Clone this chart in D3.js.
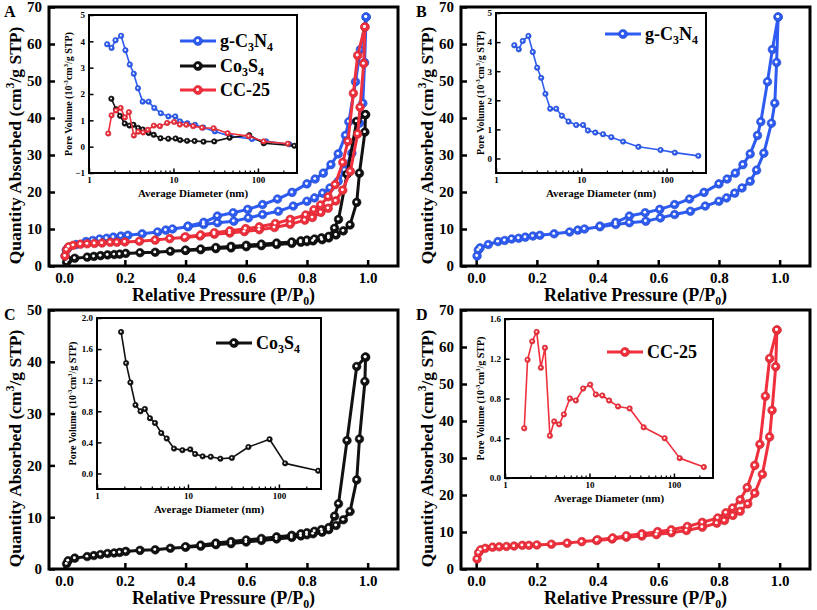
<!DOCTYPE html>
<html><head><meta charset="utf-8">
<script src="https://cdn.jsdelivr.net/npm/d3@7"></script>
<style>body{margin:0;background:#fff}svg{display:block}</style>
</head><body>
<svg id="chart" width="817" height="610"></svg>
<script>
// ---------- data ----------
const pressureTicks = [0, 0.2, 0.4, 0.6, 0.8, 1.0];
const quantityTicks70 = [0, 10, 20, 30, 40, 50, 60, 70];
const quantityTicks50 = [0, 10, 20, 30, 40, 50];
const diameterTicks = [1, 10, 100];
const poreTicksA = [-1, 0, 1, 2, 3, 4, 5];
const poreTicksB = [0, 1, 2, 3, 4, 5];
const poreTicksC = [0, 0.4, 0.8, 1.2, 1.6, 2.0];
const poreTicksD = [0, 0.4, 0.8, 1.2, 1.6];

// g-C3N4 isotherm
const gcnAdsP = [0.003,0.007,0.013,0.04,0.072,0.094,0.117,0.14,0.162,0.187,0.21,0.257,0.308,0.335,0.357,0.408,0.46,0.505,0.559,0.607,0.654,0.706,0.755,0.80,0.825,0.852,0.876,0.903,0.924,0.948,0.973,0.984,0.99,0.995];
const gcnAdsV = [2.7,4.3,4.9,5.8,6.6,6.9,7.3,7.5,7.8,8.1,8.3,8.7,9.2,9.7,10.0,10.6,11.2,11.7,12.1,13.0,13.9,14.8,16.2,17.5,18.4,19.7,21.1,22.9,25.9,30.5,38.6,44.0,55.0,67.3];
const gcnDesP = [0.995,0.976,0.96,0.938,0.927,0.903,0.879,0.854,0.827,0.80,0.751,0.703,0.654,0.605,0.557,0.505,0.46,0.408];
const gcnDesV = [67.3,58.5,49.8,39.0,35.3,30.3,27.4,25.1,23.5,22.2,19.9,18.1,16.6,15.3,14.4,13.5,11.8,10.8];

// Co3S4 isotherm
const coAdsP = [0.008,0.013,0.035,0.076,0.098,0.12,0.143,0.165,0.183,0.203,0.25,0.3,0.35,0.4,0.45,0.5,0.55,0.6,0.65,0.7,0.75,0.78,0.8,0.82,0.85,0.872,0.896,0.92,0.942,0.964,0.973,0.991,0.993];
const coAdsV = [1.0,1.6,2.1,2.4,2.6,2.8,3.0,3.1,3.2,3.4,3.6,3.7,4.0,4.2,4.4,4.7,4.9,5.2,5.5,5.8,6.1,6.4,6.6,6.8,7.1,7.6,8.4,9.5,11.1,17.2,25.1,36.2,40.9];
const coDesP = [0.993,0.964,0.932,0.904,0.891,0.872,0.848,0.825,0.8,0.78,0.75,0.7,0.65,0.6,0.55,0.5,0.45,0.4];
const coDesV = [40.9,39.1,24.8,12.6,10.2,8.0,7.6,7.3,7.0,6.8,6.5,6.2,5.9,5.6,5.3,5.0,4.6,4.3];

// CC-25 isotherm
const ccAdsP = [0.003,0.008,0.015,0.03,0.054,0.076,0.1,0.125,0.152,0.174,0.2,0.248,0.3,0.348,0.397,0.448,0.495,0.546,0.594,0.643,0.693,0.745,0.793,0.818,0.846,0.87,0.895,0.918,0.943,0.967,0.975,0.987,0.991];
const ccAdsV = [2.7,4.4,5.2,5.6,5.9,6.0,6.1,6.2,6.4,6.4,6.5,6.7,7.0,7.4,7.7,8.1,8.6,8.9,9.3,9.8,10.4,11.3,12.4,13.1,14.5,15.6,17.6,20.5,25.6,35.7,42.9,54.7,64.6];
const ccDesP = [0.991,0.967,0.953,0.935,0.918,0.893,0.87,0.845,0.823,0.796,0.745,0.696,0.643,0.598,0.546,0.495,0.45,0.4];
const ccDesV = [64.6,56.9,46.7,33.7,28.0,22.0,18.7,16.5,15.2,13.8,12.6,11.5,10.6,10.1,9.5,9.0,8.4,7.9];

// pore size distributions (diameter nm, pore volume 10^-3 cm3/g STP)
const gcnPoreD = [1.64,1.85,2.06,2.40,2.70,3.04,3.39,3.80,4.32,5.08,5.93,7.09,8.72,10.5,11.97,14.6,18.0,22.5,30.9,46.8,85,125,236];
const gcnPoreV = [3.89,3.75,4.04,4.21,3.66,3.12,2.77,2.22,1.71,1.71,1.47,1.27,1.15,1.15,0.96,0.89,0.83,0.73,0.58,0.40,0.29,0.20,0.09];
const coPoreD = [1.84,2.09,2.33,2.65,3.01,3.36,3.82,4.34,5.09,5.84,7.03,8.69,10.6,12.0,14.5,17.8,22.7,30.4,46.2,78.9,117,270];
const coPoreV = [1.82,1.42,1.17,0.88,0.80,0.83,0.71,0.65,0.52,0.45,0.32,0.30,0.31,0.25,0.22,0.215,0.19,0.20,0.34,0.44,0.13,0.035];
const ccPoreD = [1.69,1.85,2.10,2.37,2.66,2.97,3.40,3.83,4.38,4.98,5.86,6.90,8.42,10.2,11.9,14.2,17.1,21.8,29.9,43.8,77.6,117,226];
const ccPoreV = [0.50,1.19,1.375,1.47,1.11,1.31,0.425,0.57,0.54,0.64,0.80,0.78,0.90,0.94,0.84,0.83,0.78,0.72,0.70,0.51,0.40,0.20,0.11];

// ---------- styling ----------
const BLUE = "#2e5cf2", BLACK = "#111111", RED = "#f0303c";
const FONT = "'Liberation Serif','Times New Roman',serif";
const zip = (a, b) => a.map((v, i) => [v, b[i]]);

const gcn = {label: [["g-C",""],["3","sub"],["N",""],["4","sub"]], color: BLUE,
  iso: zip(gcnAdsP, gcnAdsV).concat(zip(gcnDesP, gcnDesV)), pore: zip(gcnPoreD, gcnPoreV)};
const co = {label: [["Co",""],["3","sub"],["S",""],["4","sub"]], color: BLACK,
  iso: zip(coAdsP, coAdsV).concat(zip(coDesP, coDesV)), pore: zip(coPoreD, coPoreV)};
const cc = {label: [["CC-25",""]], color: RED,
  iso: zip(ccAdsP, ccAdsV).concat(zip(ccDesP, ccDesV)), pore: zip(ccPoreD, ccPoreV)};

const svg = d3.select("#chart").attr("font-family", FONT).attr("font-weight", "bold");

function rich(sel, parts, size) {
  let shift = 0;
  parts.forEach(([s, m]) => {
    const target = m === "sup" ? -0.38 * size : m === "sub" ? 0.2 * size : 0;
    const t = sel.append("tspan").text(s).attr("dy", target - shift);
    if (m) t.attr("font-size", size * 0.66);
    shift = target;
  });
}

function markers(g, pts, x, y, color, r) {
  const m = g.append("g");
  m.selectAll("circle.m").data(pts).join("circle").attr("class", "m")
    .attr("cx", d => x(d[0])).attr("cy", d => y(d[1])).attr("r", r)
    .attr("fill", color).attr("stroke", d3.color(color).darker(0.6)).attr("stroke-width", 0.6);
  m.selectAll("circle.h").data(pts).join("circle").attr("class", "h")
    .attr("cx", d => x(d[0]) - r * 0.1).attr("cy", d => y(d[1]) - r * 0.1).attr("r", r * 0.34)
    .attr("fill", "#fff");
}

function legendItem(g, item, x0, yy, len, fs) {
  g.append("line").attr("x1", x0).attr("x2", x0 + len).attr("y1", yy).attr("y2", yy)
    .attr("stroke", item.color).attr("stroke-width", 3);
  markers(g, [[x0 + len / 2, yy]], d => d, d => d, item.color, 4.5);
  const t = g.append("text").attr("x", x0 + len + 4).attr("y", yy + fs * 0.33)
    .attr("font-size", fs).attr("fill", "#000");
  rich(t, item.label, fs);
}

function panel(cfg) {
  const g = svg.append("g");
  const x = d3.scaleLinear().domain([-0.05, 1.1]).range([cfg.left, cfg.right]);
  const y = d3.scaleLinear().domain(cfg.yDomain).range([cfg.bottom, cfg.top]);

  const xa = g.append("g").attr("transform", `translate(0,${cfg.bottom})`)
    .call(d3.axisBottom(x).tickValues(pressureTicks).tickFormat(d3.format(".1f"))
      .tickSizeInner(-6).tickSizeOuter(0).tickPadding(6));
  const ya = g.append("g").attr("transform", `translate(${cfg.left},0)`)
    .call(d3.axisLeft(y).tickValues(cfg.yTicks).tickFormat(d3.format("d"))
      .tickSizeInner(-6).tickSizeOuter(0).tickPadding(7));
  [xa, ya].forEach(a => {
    a.select(".domain").remove();
    a.selectAll("line").attr("stroke", "#000").attr("stroke-width", 2.5);
    a.selectAll("text").attr("font-size", 15).attr("font-family", FONT).attr("font-weight", "bold").attr("fill", "#000");
  });

  g.append("rect").attr("x", cfg.left).attr("y", cfg.top)
    .attr("width", cfg.right - cfg.left).attr("height", cfg.bottom - cfg.top)
    .attr("fill", "none").attr("stroke", "#000").attr("stroke-width", 3);

  // titles
  const xt = g.append("text").attr("x", (cfg.left + cfg.right) / 2).attr("y", cfg.bottom + 35)
    .attr("text-anchor", "middle").attr("font-size", 18);
  rich(xt, [["Relative Pressure (P/P",""],["0","sub"],[")",""]], 18);
  const yt = g.append("text").attr("transform", `translate(${cfg.left - 28},${(cfg.top + cfg.bottom) / 2 + 9}) rotate(-90)`)
    .attr("text-anchor", "middle").attr("font-size", 17.5);
  rich(yt, [["Quantity Absorbed (cm",""],["3","sup"],["/g STP)",""]], 17.5);
  g.append("text").attr("x", cfg.left - 45).attr("y", cfg.top + 10).attr("font-size", 16).text(cfg.letter);

  // inset first (drawn under the isotherm curves)
  inset(g, cfg.inset, cfg.series);

  const line = d3.line().x(d => x(d[0])).y(d => y(d[1]));
  cfg.series.forEach(s => {
    g.append("path").attr("d", line(s.iso)).attr("fill", "none")
      .attr("stroke", s.color).attr("stroke-width", 3).attr("stroke-linejoin", "round");
    markers(g, s.iso, x, y, s.color, 4.3);
  });

  cfg.legend.forEach((l, i) => legendItem(g, cfg.series[i], l[0], l[1], 36, 18));
}

function inset(g, c, series) {
  const gi = g.append("g");
  const x = d3.scaleLog().domain([1, 290]).range([c.left, c.right]);
  const y = d3.scaleLinear().domain(c.yDomain).range([c.bottom, c.top]);
  gi.append("rect").attr("x", c.left).attr("y", c.top).attr("width", c.right - c.left)
    .attr("height", c.bottom - c.top).attr("fill", "#fff");
  const minor = [];
  [1, 10, 100].forEach(dec => { for (let k = 2; k <= 9; k++) if (dec * k < 290) minor.push(dec * k); });
  gi.append("g").attr("transform", `translate(0,${c.bottom})`)
    .call(d3.axisBottom(x).tickValues(minor).tickFormat("").tickSizeInner(-2.5).tickSizeOuter(0))
    .call(a => a.select(".domain").remove())
    .selectAll("line").attr("stroke", "#000").attr("stroke-width", 1.2);
  const xa = gi.append("g").attr("transform", `translate(0,${c.bottom})`)
    .call(d3.axisBottom(x).tickValues(diameterTicks).tickFormat(d3.format("d"))
      .tickSizeInner(-4.5).tickSizeOuter(0).tickPadding(4));
  const ya = gi.append("g").attr("transform", `translate(${c.left},0)`)
    .call(d3.axisLeft(y).tickValues(c.yTicks).tickFormat(c.fmt)
      .tickSizeInner(-4.5).tickSizeOuter(0).tickPadding(4));
  [xa, ya].forEach(a => {
    a.select(".domain").remove();
    a.selectAll("line").attr("stroke", "#000").attr("stroke-width", 1.5);
    a.selectAll("text").attr("font-size", 9).attr("font-family", FONT).attr("font-weight", "bold").attr("fill", "#000");
  });
  gi.append("rect").attr("x", c.left).attr("y", c.top).attr("width", c.right - c.left)
    .attr("height", c.bottom - c.top).attr("fill", "none").attr("stroke", "#000").attr("stroke-width", 2);

  gi.append("text").attr("x", (c.left + c.right) / 2).attr("y", c.bottom + 24)
    .attr("text-anchor", "middle").attr("font-size", 11).text("Average Diameter (nm)");
  const yt = gi.append("text").attr("transform", `translate(${c.left + c.yTitleDx},${(c.top + c.bottom) / 2}) rotate(-90)`)
    .attr("text-anchor", "middle").attr("font-size", 10);
  rich(yt, [["Pore Volume (10",""],["-3","sup"],["cm",""],["3","sup"],["/g STP)",""]], 10);

  const line = d3.line().x(d => x(d[0])).y(d => y(d[1]));
  series.forEach(s => {
    gi.append("path").attr("d", line(s.pore)).attr("fill", "none")
      .attr("stroke", s.color).attr("stroke-width", 1.6).attr("stroke-linejoin", "round");
    markers(gi, s.pore, x, y, s.color, 2.7);
  });
}

const f1 = d3.format(".1f"), fd = d3.format("d");

panel({letter: "A", left: 49, right: 398, top: 7, bottom: 266, yDomain: [0, 70], yTicks: quantityTicks70,
  series: [gcn, co, cc], legend: [[180, 41], [180, 66], [180, 90]],
  inset: {left: 89, right: 297, top: 15, bottom: 173, yDomain: [-1, 5], yTicks: poreTicksA, fmt: fd, yTitleDx: -17}});
panel({letter: "B", left: 461, right: 810, top: 7, bottom: 266, yDomain: [0, 70], yTicks: quantityTicks70,
  series: [gcn], legend: [[605, 34]],
  inset: {left: 496, right: 706, top: 13, bottom: 173, yDomain: [-0.5, 5], yTicks: poreTicksB, fmt: fd, yTitleDx: -12}});
panel({letter: "C", left: 49, right: 398, top: 310, bottom: 569, yDomain: [0, 50], yTicks: quantityTicks50,
  series: [co], legend: [[216, 343]],
  inset: {left: 97, right: 321, top: 318, bottom: 489, yDomain: [-0.2, 2.0], yTicks: poreTicksC, fmt: f1, yTitleDx: -21}});
panel({letter: "D", left: 461, right: 810, top: 310, bottom: 569, yDomain: [0, 70], yTicks: quantityTicks70,
  series: [cc], legend: [[607, 352]],
  inset: {left: 505, right: 713, top: 319, bottom: 478, yDomain: [0, 1.6], yTicks: poreTicksD, fmt: f1, yTitleDx: -21}});
</script>
</body></html>
